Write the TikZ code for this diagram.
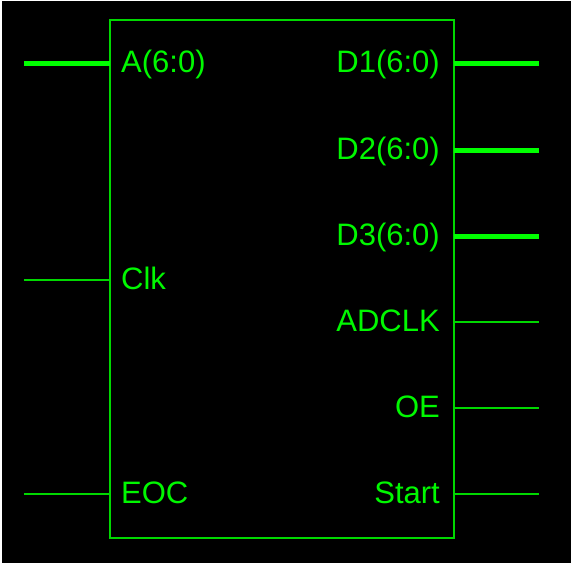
\documentclass[tikz,border=0pt]{standalone}
\usepackage{fontspec}
\setmainfont{Liberation Sans}
\definecolor{txtgreen}{HTML}{00F800}
\definecolor{busgreen}{HTML}{00FF00}
\definecolor{boxgreen}{HTML}{00D800}
\tikzset{
  pinlbl/.style={text=txtgreen, font=\fontsize{31}{36}\selectfont, inner sep=0pt},
  lpin/.style={pinlbl, anchor=base west},
  rpin/.style={pinlbl, anchor=base east},
  bus/.style={draw=busgreen, line width=5pt},
  wire/.style={draw=boxgreen, line width=1.5pt},
  chip/.style={draw=boxgreen, line width=1.5pt}
}
\begin{document}
\begin{tikzpicture}[x=1pt,y=-1pt]
\fill[white] (0,0) rectangle (571,565);
\fill[black] (2,1) rectangle (571,563);
\useasboundingbox (0,0) rectangle (571,565);
\draw[chip] (110,20) rectangle (454,538);
% left pins
\coordinate (aL) at (24,63);   \coordinate (aR) at (110,63);
\coordinate (cL) at (24,280);  \coordinate (cR) at (110,280);
\coordinate (eL) at (24,494);  \coordinate (eR) at (110,494);
\draw[bus] (aL) -- (aR);
\draw[wire] (cL) -- (cR);
\draw[wire] (eL) -- (eR);
% right pins
\coordinate (d1L) at (454,63);  \coordinate (d1R) at (539,63);
\coordinate (d2L) at (454,150); \coordinate (d2R) at (539,150);
\coordinate (d3L) at (454,236); \coordinate (d3R) at (539,236);
\coordinate (adL) at (454,322); \coordinate (adR) at (539,322);
\coordinate (oeL) at (454,408); \coordinate (oeR) at (539,408);
\coordinate (stL) at (454,494); \coordinate (stR) at (539,494);
\draw[bus] (d1L) -- (d1R);
\draw[bus] (d2L) -- (d2R);
\draw[bus] (d3L) -- (d3R);
\draw[wire] (adL) -- (adR);
\draw[wire] (oeL) -- (oeR);
\draw[wire] (stL) -- (stR);
% labels
\node[lpin] (tA) at (121,72) {A(6:0)};
\node[lpin] (tClk) at (121,289) {Clk};
\node[lpin] (tEOC) at (121,503) {EOC};
\node[rpin] (tD1) at (440,72) {D1(6:0)};
\node[rpin] (tD2) at (440,159) {D2(6:0)};
\node[rpin] (tD3) at (440,245) {D3(6:0)};
\node[rpin] (tAD) at (440,331) {ADCLK};
\node[rpin] (tOE) at (440,417) {OE};
\node[rpin] (tSt) at (440,503) {Start};
\end{tikzpicture}
\end{document}
